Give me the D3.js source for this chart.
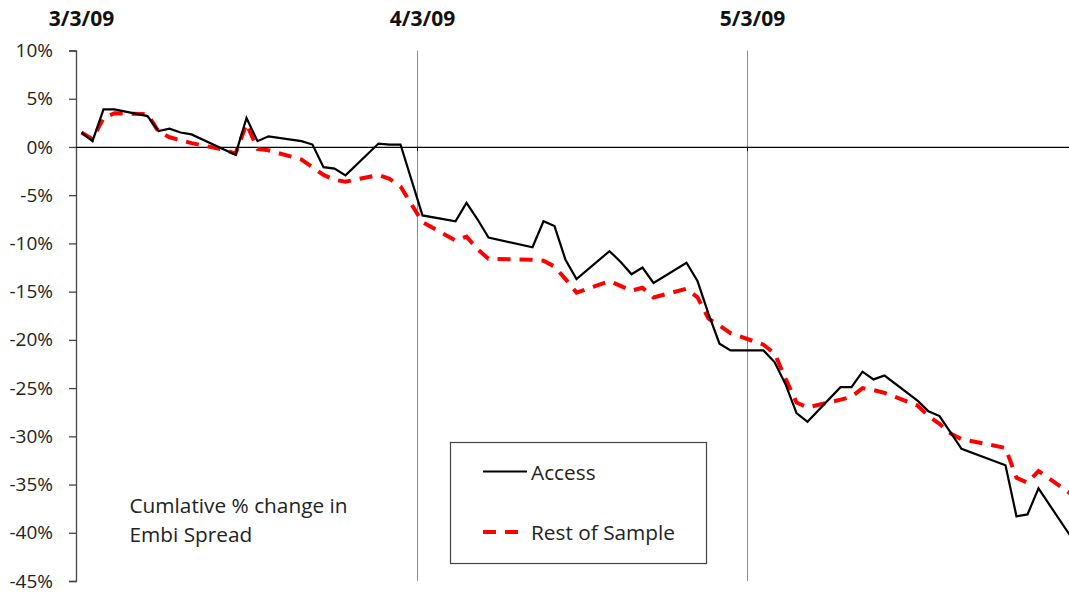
<!DOCTYPE html>
<html>
<head>
<meta charset="utf-8">
<script src="https://cdn.jsdelivr.net/npm/d3@7"></script>
<style>
  html, body { margin: 0; padding: 0; background: #fff; }
  svg { display: block; font-family: "Open Sans", sans-serif; }
</style>
</head>
<body>
<svg id="chart" width="1069" height="593"></svg>
<script>
// ---- data ----
const dates = [
  "2009-03-03","2009-03-04","2009-03-05","2009-03-06","2009-03-09","2009-03-10","2009-03-11","2009-03-12","2009-03-13",
  "2009-03-16","2009-03-17","2009-03-18","2009-03-19","2009-03-20","2009-03-23","2009-03-24","2009-03-25","2009-03-26","2009-03-27",
  "2009-03-30","2009-03-31","2009-04-01","2009-04-03","2009-04-06","2009-04-07","2009-04-08","2009-04-09",
  "2009-04-13","2009-04-14","2009-04-15","2009-04-16","2009-04-17","2009-04-20","2009-04-21","2009-04-22","2009-04-23","2009-04-24",
  "2009-04-27","2009-04-28","2009-04-29","2009-04-30","2009-05-01","2009-05-04","2009-05-05","2009-05-06","2009-05-07","2009-05-08",
  "2009-05-11","2009-05-12","2009-05-13","2009-05-14","2009-05-15","2009-05-18","2009-05-19","2009-05-20","2009-05-21","2009-05-22",
  "2009-05-26","2009-05-27","2009-05-28","2009-05-29","2009-06-01"
];
const access = [
  1.5, 0.6, 3.9, 3.9, 3.2, 1.65, 1.9, 1.5, 1.3,
  -0.3, -0.8, 3.0, 0.6, 1.1, 0.6, 0.25, -2.1, -2.25, -2.95,
  0.35, 0.25, 0.25, -7.1, -7.7, -5.8, -7.5, -9.4,
  -10.4, -7.7, -8.2, -11.7, -13.7, -10.8, -11.9, -13.2, -12.5, -14.1,
  -12.0, -13.9, -17.3, -20.4, -21.1, -21.1, -22.3, -24.6, -27.6, -28.5,
  -24.9, -24.9, -23.3, -24.1, -23.7, -26.3, -27.4, -27.9, -29.6, -31.3,
  -33.0, -38.3, -38.1, -35.4, -40.5
];
const restOfSample = [
  1.5, 0.8, 3.0, 3.5, 3.4, 1.6, 1.0, 0.7, 0.4,
  -0.3, -0.7, 2.4, -0.2, -0.35, -1.3, -2.1, -2.9, -3.4, -3.6,
  -2.9, -3.3, -4.1, -7.8, -9.7, -9.3, -10.6, -11.6,
  -11.7, -11.8, -12.4, -13.7, -15.1, -13.9, -14.4, -14.9, -14.6, -15.6,
  -14.7, -15.6, -17.8, -18.5, -19.3, -20.5, -21.4, -24.0, -26.5, -27.0,
  -26.2, -25.9, -25.0, -25.2, -25.5, -26.8, -27.9, -28.7, -29.7, -30.3,
  -31.2, -34.3, -34.8, -33.6, -36.0
];
const seriesNames = ["Access", "Rest of Sample"];
const yTicks = [10, 5, 0, -5, -10, -15, -20, -25, -30, -35, -40, -45];
const markerDates = ["2009-03-03", "2009-04-03", "2009-05-03"];
const markerLabels = ["3/3/09", "4/3/09", "5/3/09"];
const noteLines = ["Cumlative % change in", "Embi Spread"];

// ---- scales ----
const parse = d3.utcParse("%Y-%m-%d");
const svg = d3.select("#chart");
const plotLeft = 76, plotTop = 50.5, plotBottom = 581;
const dayW = 11;
const start = parse("2009-03-03");
const end = d3.utcDay.offset(start, 92);
const x = d3.scaleUtc().domain([start, end]).range([plotLeft, plotLeft + 92 * dayW]);
const y = d3.scaleLinear().domain([-45, 10]).range([plotBottom, plotTop]);
const xc = d => x(d3.utcHour.offset(parse(d), 12)); // slot centre

// vertical month lines
svg.append("g").selectAll("line")
  .data(markerDates.slice(1))
  .join("line")
  .attr("x1", d => Math.round(x(parse(d))) + 0.5)
  .attr("x2", d => Math.round(x(parse(d))) + 0.5)
  .attr("y1", plotTop).attr("y2", plotBottom)
  .attr("stroke", "#8c8c8c").attr("stroke-width", 1);

// y axis
const yAxis = svg.append("g")
  .attr("transform", `translate(${plotLeft},0)`)
  .call(d3.axisLeft(y).tickValues(yTicks).tickSize(7).tickPadding(16)
        .tickFormat(d => d + "%"));
yAxis.select(".domain").attr("stroke", "#444").attr("stroke-width", 1.3);
yAxis.selectAll(".tick line").attr("stroke", "#444").attr("stroke-width", 1.3);
yAxis.selectAll(".tick text").attr("font-size", 19).attr("fill", "#222")
  .attr("font-family", "'Open Sans', sans-serif");

// zero line (x axis)
const xAxis = svg.append("g")
  .attr("transform", `translate(0,${y(0)})`)
  .call(d3.axisBottom(x).tickValues(markerDates.slice(1).map(parse)).tickSize(4).tickFormat(""));
xAxis.select(".domain").attr("stroke", "#000").attr("stroke-width", 1.2)
  .attr("d", `M${plotLeft},0.5H1069`);
xAxis.selectAll(".tick line").attr("stroke", "#000");

// top date labels
svg.append("g").selectAll("text")
  .data(markerDates)
  .join("text")
  .attr("x", d => xc(d))
  .attr("y", 26)
  .attr("text-anchor", "middle")
  .attr("font-size", 21)
  .attr("font-weight", "bold")
  .attr("fill", "#111")
  .text((d, i) => markerLabels[i]);

// lines
const line = d3.line().x(d => xc(d.date)).y(d => y(d.v));
const dataA = dates.map((d, i) => ({date: d, v: access[i]}));
const dataR = dates.map((d, i) => ({date: d, v: restOfSample[i]}));

svg.append("path").datum(dataR)
  .attr("d", line).attr("fill", "none")
  .attr("stroke", "#ff0000").attr("stroke-width", 4)
  .attr("stroke-dasharray", "13,9");
svg.append("path").datum(dataA)
  .attr("d", line).attr("fill", "none")
  .attr("stroke", "#000").attr("stroke-width", 2.2)
  .attr("stroke-linejoin", "miter");

// note text
svg.append("g").selectAll("text")
  .data(noteLines)
  .join("text")
  .attr("x", 129.5)
  .attr("y", (d, i) => 513 + i * 29)
  .attr("font-size", 20.8)
  .attr("fill", "#222")
  .text(d => d);

// legend
const lg = svg.append("g");
lg.append("rect").attr("x", 450.5).attr("y", 442.5).attr("width", 256).attr("height", 121)
  .attr("fill", "#fff").attr("stroke", "#444").attr("stroke-width", 1.2);
const legItems = [
  {name: seriesNames[0], color: "#000", w: 2.2, dash: null, yy: 471.5},
  {name: seriesNames[1], color: "#ff0000", w: 4, dash: "13,9", yy: 532}
];
legItems.forEach(it => {
  lg.append("line").attr("x1", 483).attr("x2", 527).attr("y1", it.yy).attr("y2", it.yy)
    .attr("stroke", it.color).attr("stroke-width", it.w)
    .attr("stroke-dasharray", it.dash);
  lg.append("text").attr("x", 531).attr("y", it.yy + 8)
    .attr("font-size", 20.8).attr("fill", "#222").text(it.name);
});
</script>
</body>
</html>
